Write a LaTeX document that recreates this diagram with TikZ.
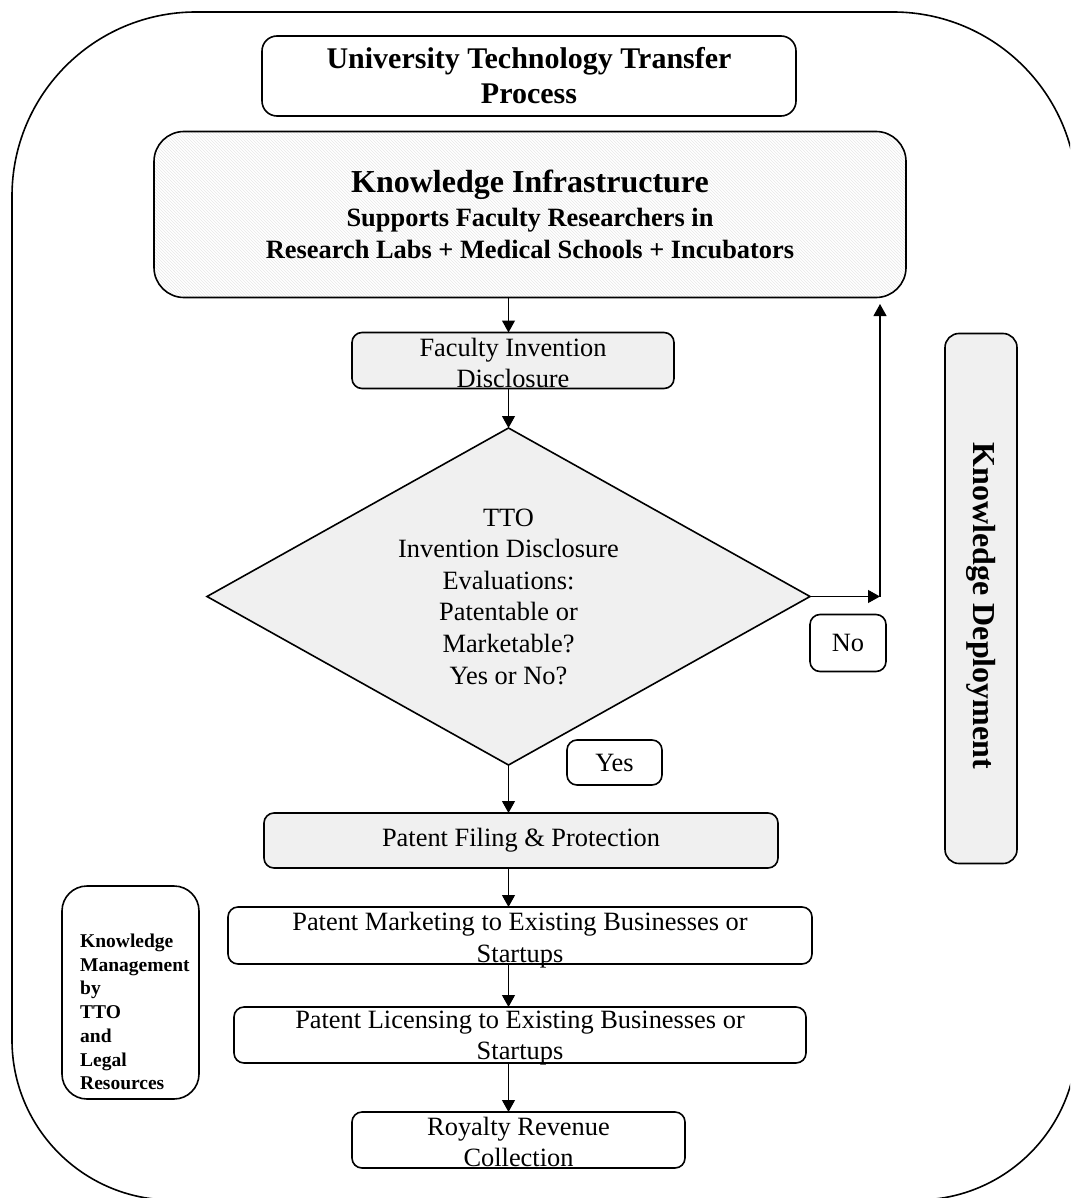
\documentclass[tikz,border=0pt]{standalone}
\usepackage{fontspec}
\setmainfont{Liberation Serif}
\usetikzlibrary{shapes.geometric,arrows.meta,patterns}
\definecolor{boxgray}{RGB}{240,240,240}
\definecolor{hatch}{RGB}{232,232,232}
\begin{document}
\begin{tikzpicture}[x=1pt,y=-1pt,
  box/.style={draw=black,line width=1.6pt,rounded corners=10pt,inner sep=0pt,outer sep=0pt,align=center,font=\fontsize{26.4}{31.6}\selectfont},
  gbox/.style={box,fill=boxgray},
  txt/.style={inner sep=0pt,align=center,font=\fontsize{26.4}{31.6}\selectfont},
  arr/.style={line width=1.1pt,-{Triangle[length=12pt,width=13pt]}},
]
\useasboundingbox (0,0) rectangle (1070,1198);
\clip (0,0) rectangle (1070,1198);
\fill[white] (0,0) rectangle (1070,1198);
% outer frame
\draw[line width=1.6pt] (12,600) [rounded corners=184pt] -- (12,12) -- (1077,12) -- (1077,600)
   [rounded corners=160pt] -- (1077,1200) -- (12,1200) -- cycle;

\node[box,rounded corners=15pt,minimum width=534pt,minimum height=80pt,
      font=\fontsize{30}{35}\selectfont\bfseries] (title) at (529,76)
      {University Technology Transfer\\Process};

\node[box,rounded corners=30pt,minimum width=752pt,minimum height=166pt,
      pattern=north west lines,pattern color=hatch,
      font=\fontsize{26.4}{31.6}\selectfont\bfseries] (ki) at (530,214.5)
      {{\fontsize{32}{34}\selectfont Knowledge Infrastructure}\\[2.4pt]Supports Faculty Researchers in\\Research Labs + Medical Schools + Incubators};

\node[gbox,minimum width=322pt,minimum height=56pt] (fac) at (513,360.5) {};
\node[txt] (facT) at (513,363) {Faculty Invention\\Disclosure};

\node[diamond,draw=black,line width=1.6pt,fill=boxgray,inner sep=0pt,outer sep=0pt,
      aspect=1.79,minimum width=603pt,minimum height=337pt,align=center,
      font=\fontsize{26.4}{31.6}\selectfont] (dia) at (508.5,596.5)
      {TTO\\Invention Disclosure\\Evaluations:\\Patentable or\\Marketable?\\Yes or No?};

\node[box,minimum width=76pt,minimum height=57pt] (no) at (848,643) {No};
\node[box,minimum width=95pt,minimum height=45pt] (yes) at (614.5,762.5) {Yes};

\node[gbox,minimum width=514pt,minimum height=55pt] (pf) at (521,840.5) {Patent Filing \& Protection};

\node[box,minimum width=584pt,minimum height=57pt] (mkt) at (520,935.5) {};
\node[txt] (mktT) at (520,940) {Patent Marketing to Existing Businesses or\\Startups};

\node[box,minimum width=572pt,minimum height=56pt] (lic) at (520,1035) {};
\node[txt] (licT) at (520,1038) {Patent Licensing to Existing Businesses or\\Startups};

\node[box,minimum width=333pt,minimum height=56pt] (roy) at (518.5,1140) {};
\node[txt] (royT) at (518.5,1142) {Royalty Revenue\\Collection};

\node[box,rounded corners=25pt,minimum width=137pt,minimum height=213pt] (km) at (130.5,992.5) {};
\node[inner sep=0pt,anchor=west,align=left,font=\fontsize{19.5}{23.7}\selectfont\bfseries] (kmT) at (80,1012)
      {Knowledge\\Management\\by\\TTO\\and\\Legal\\Resources};

\node[gbox,rounded corners=14pt,minimum width=72pt,minimum height=530pt] (kd) at (981,598.5) {};
\node[inner sep=0pt,rotate=-90,font=\fontsize{32}{38}\selectfont\bfseries] (kdT) at (981,606) {Knowledge Deployment};

% connectors
\draw[arr] (ki.south -| dia.north) -- (fac.north -| dia.north);
\draw[arr] (fac.south -| dia.north) -- (dia.north);
\draw[arr] (dia.south) -- (pf.north -| dia.south);
\draw[arr] (pf.south -| dia.south) -- (mkt.north -| dia.south);
\draw[arr] (mkt.south -| dia.south) -- (lic.north -| dia.south);
\draw[arr] (lic.south -| dia.south) -- (roy.north -| dia.south);
\coordinate (noturn) at (880,596.5);
\coordinate (kiback) at (880,304);
\draw[arr] (dia.east) -- (noturn);
\draw[arr] (noturn) -- (kiback);
\end{tikzpicture}
\end{document}
